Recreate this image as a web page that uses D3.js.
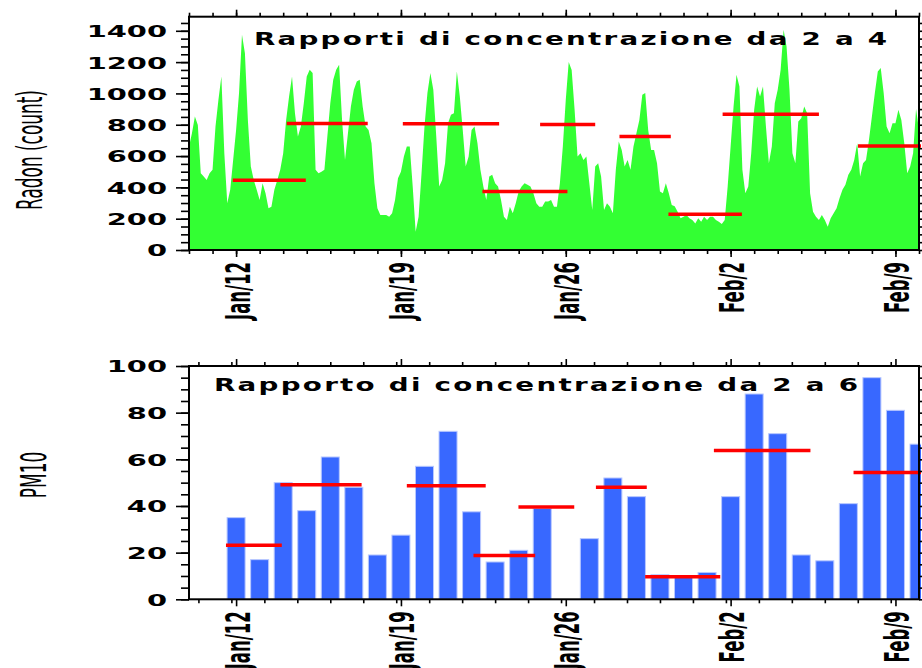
<!DOCTYPE html>
<html><head><meta charset="utf-8">
<script src="https://cdn.jsdelivr.net/npm/d3@7"></script>
<style>body{margin:0;background:#fff}svg{display:block}</style>
</head><body><svg id="c" width="922" height="668"></svg>
<script>
// ---------------- DATA ----------------
const periodStart = "2010-01-10";
const periodEnd = "2010-02-10";
const radonStepHours = 3;
const radonCounts = [
 660,746,852,799,490,469,447,490, 512,788,959,1108,618,298,384,575,
 767,1002,1375,1257,831,533,447,384, 320,426,362,266,277,384,447,512,
 618,831,980,1108,874,725,788,938, 1108,1151,1130,512,490,500,512,725,
 938,1087,1151,1183,831,575,746,917, 1023,1076,1087,917,788,767,682,426,
 266,224,224,224,213,234,320,458, 500,597,661,661,405,117,213,490,
 788,1002,1130,1023,725,405,447,554, 810,863,874,1140,980,767,533,597,
 767,788,682,512,405,320,469,480, 426,405,320,213,192,277,234,298,
 373,405,426,416,405,362,298,277, 277,309,309,320,277,277,426,661,
 959,1200,1150,895,597,618,575,597, 426,256,533,554,469,256,298,277,
 234,512,693,639,533,575,512,661, 746,831,991,1002,767,639,639,554,
 373,362,426,362,288,280,245,202, 213,224,202,192,170,202,181,213,
 192,213,213,192,181,166,192,405, 661,917,1119,1044,512,362,405,618,
 895,1044,980,1044,788,554,661,938, 1023,1151,1406,1300,1023,618,554,820,
 842,917,874,362,245,213,192,224, 192,149,202,234,266,330,384,416,
 480,512,575,682,469,554,575,703, 852,1002,1140,1162,1002,788,746,810,
 810,895,831,682,490,533,618,900, 767
];
// mean segments (days after period start)
const radonMeanStartDay = [1.86, 4.15, 9.08, 12.46, 14.91, 18.28, 20.36, 22.66, 28.41];
const radonMeanEndDay   = [4.96, 7.59, 13.17, 16.07, 17.25, 20.46, 23.48, 26.75, 31.1];
const radonMeanValue    = [446, 808, 807, 373, 801, 725, 228, 867, 665];

const pmDates = ["2010-01-10","2010-01-11","2010-01-12","2010-01-13","2010-01-14","2010-01-15","2010-01-16","2010-01-17",
 "2010-01-18","2010-01-19","2010-01-20","2010-01-21","2010-01-22","2010-01-23","2010-01-24","2010-01-25","2010-01-26",
 "2010-01-27","2010-01-28","2010-01-29","2010-01-30","2010-01-31","2010-02-01","2010-02-02","2010-02-03","2010-02-04",
 "2010-02-05","2010-02-06","2010-02-07","2010-02-08","2010-02-09","2010-02-10"];
const pmValues = [null,null,35,17,50,38,61,48, 19,27.5,57,72,37.5,16,21,39,null, 26,52,44,10.5,10,11.5,44,88,71, 19,16.5,41,95,81,66.5];
const pmMeanStartDay = [1.57, 3.88, 9.25, 12.08, 13.99, 17.28, 19.37, 22.29, 28.22];
const pmMeanEndDay   = [3.94, 7.33, 12.6, 14.7, 16.36, 19.44, 22.56, 26.39, 31.1];
const pmMeanValue    = [23.2, 49.1, 48.7, 18.8, 39.6, 48.0, 9.7, 63.8, 54.4];

const majorTickDates = ["2010-01-12","2010-01-19","2010-01-26","2010-02-02","2010-02-09"];
const radonTicks = [0,200,400,600,800,1000,1200,1400];
const pmTicks = [0,20,40,60,80,100];
const radonTitle = "Rapporti di concentrazione da 2 a 4";
const pmTitle = "Rapporto di concentrazione da 2 a 6";
const radonLabel = "Radon (count)";
const pmLabel = "PM10";

// ---------------- DRAW ----------------
const parseDay = d3.timeParse("%Y-%m-%d");
const t0 = parseDay(periodStart), t1 = parseDay(periodEnd);
const dayMs = 864e5;
const dayAt = d => new Date(t0.getTime() + d * dayMs);
const fmt = d3.timeFormat("%b/%-d");
const majors = majorTickDates.map(parseDay);

const svg = d3.select("#c");
svg.append("rect").attr("width",922).attr("height",668).attr("fill","#fff");
const FONT = "DejaVu Sans, Verdana, sans-serif";
const L = 189, R = 919;

function panel(o) {
  const x = d3.scaleTime().domain([t0, t1]).range([L, R]);
  const y = d3.scaleLinear().domain(o.yDomain).range([o.yBottom, o.yTop]);
  const g = svg.append("g");
  const clipId = "clip" + o.id;
  svg.append("clipPath").attr("id", clipId).append("rect")
    .attr("x", L).attr("y", o.yTop).attr("width", R - L + 2).attr("height", o.yBottom - o.yTop);
  const plot = g.append("g").attr("clip-path", `url(#${clipId})`);
  o.drawData(plot, x, y);
  // mean segments
  plot.selectAll("line.mean").data(o.means).join("line")
    .attr("x1", d => x(dayAt(d.s))).attr("x2", d => x(dayAt(d.e)))
    .attr("y1", d => y(d.v)).attr("y2", d => y(d.v))
    .attr("stroke", "#ff0000").attr("stroke-width", 3.5);
  // title
  g.append("text").attr("transform", `translate(${o.titleX},${o.titleY}) scale(1.5,1)`)
    .attr("font-family", FONT).attr("font-weight", "bold").attr("font-size", 18.5)
    .attr("textLength", o.titleW / 1.5).attr("lengthAdjust", "spacing")
    .text(o.title);
  // frame
  g.append("rect").attr("x", L).attr("y", o.yTop).attr("width", R - L).attr("height", o.yBottom - o.yTop)
    .attr("fill", "none").attr("stroke", "#000").attr("stroke-width", 2);
  // minor/major ticks
  const minorY = d3.range(0, o.yDomain[1] + 1e-9, o.yMinor);
  const style = sel => { sel.select(".domain").remove(); sel.selectAll("line").attr("stroke","#000").attr("stroke-width",1.6); };
  g.append("g").attr("transform", `translate(${L},0)`).call(d3.axisLeft(y).tickValues(minorY).tickSize(8).tickFormat("")).call(style);
  const la = g.append("g").attr("transform", `translate(${L},0)`)
    .call(d3.axisLeft(y).tickValues(o.yTicks).tickSize(13).tickFormat(d3.format("d"))).call(style);
  la.selectAll("text").attr("x", null).attr("dy", "0.36em")
    .attr("transform", "translate(-22,0) scale(1.75,1)")
    .attr("font-family", FONT).attr("font-weight", "bold").attr("font-size", 16.5).attr("fill", "#000");
  g.append("g").attr("transform", `translate(${R},0)`).call(d3.axisRight(y).tickValues(minorY).tickSize(6).tickFormat("")).call(style);
  const minorX = o.xMinor;
  g.append("g").attr("transform", `translate(0,${o.yTop})`).call(d3.axisTop(x).tickValues(minorX).tickSize(4).tickFormat("")).call(style);
  g.append("g").attr("transform", `translate(0,${o.yTop})`).call(d3.axisTop(x).tickValues(majors).tickSize(7).tickFormat("")).call(style);
  g.append("g").attr("transform", `translate(0,${o.yBottom})`).call(d3.axisBottom(x).tickValues(minorX).tickSize(4).tickFormat("")).call(style);
  const ba = g.append("g").attr("transform", `translate(0,${o.yBottom})`).call(d3.axisBottom(x).tickValues(majors).tickSize(7).tickFormat(fmt)).call(style);
  ba.selectAll("text").attr("y", null).attr("dy", null).attr("text-anchor", "end")
    .attr("transform", "translate(13,12) rotate(-90) scale(0.5,1)")
    .attr("font-family", FONT).attr("font-weight", "bold").attr("font-size", 33).attr("fill", "#000");
  // y label
  g.append("text").attr("transform", `translate(${o.labelX},${o.labelY}) rotate(-90) scale(0.47,1)`)
    .attr("text-anchor", "middle").attr("font-family", FONT).attr("font-size", 36).attr("fill", "#000")
    .text(o.label);
}

// Radon panel
panel({
  id: 1, yDomain: [0, 1490], yTop: 16.7, yBottom: 250, yTicks: radonTicks, yMinor: 50,
  xMinor: d3.range(0, 32).map(dayAt),
  title: radonTitle, titleX: 254, titleY: 45, titleW: 633,
  label: radonLabel, labelX: 42, labelY: 150,
  means: radonMeanValue.map((v, i) => ({ s: radonMeanStartDay[i], e: radonMeanEndDay[i], v })),
  drawData: (p, x, y) => {
    const pts = radonCounts.map((v, i) => ({ t: new Date(t0.getTime() + i * radonStepHours * 36e5), v }));
    p.append("path").datum(pts)
      .attr("d", d3.area().x(d => x(d.t)).y0(y(0)).y1(d => y(d.v)))
      .attr("fill", "#33ff33");
  }
});

// PM10 panel
panel({
  id: 2, yDomain: [0, 100], yTop: 366, yBottom: 599.3, yTicks: pmTicks, yMinor: 5,
  xMinor: d3.range(-3, 32, 1.4).map(d => dayAt(d + 2)).filter(d => d >= t0 && d <= t1),
  title: pmTitle, titleX: 214, titleY: 391, titleW: 644,
  label: pmLabel, labelX: 46, labelY: 475,
  means: pmMeanValue.map((v, i) => ({ s: pmMeanStartDay[i], e: pmMeanEndDay[i], v })),
  drawData: (p, x, y) => {
    const bars = pmDates.map((d, i) => ({ d: parseDay(d), v: pmValues[i] })).filter(b => b.v != null);
    const bw = x(dayAt(0.765)) - x(dayAt(0));
    p.selectAll("rect.bar").data(bars).join("rect")
      .attr("x", b => x(b.d) - bw / 2).attr("width", bw)
      .attr("y", b => y(b.v)).attr("height", b => y(0) - y(b.v))
      .attr("fill", "#3868ff").attr("stroke", "#b8c8ff").attr("stroke-width", 1);
  }
});
</script></body></html>
